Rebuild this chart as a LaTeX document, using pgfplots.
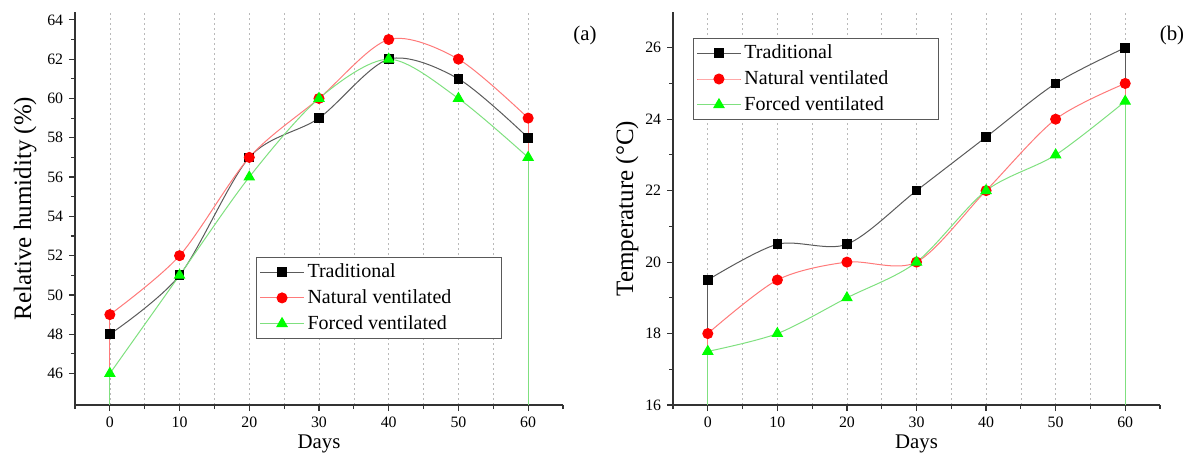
\documentclass[border=0pt]{standalone}
\usepackage{fontspec}
\setmainfont{Liberation Serif}
\usepackage{pgfplots}
\pgfplotsset{compat=1.18}

\definecolor{tradline}{HTML}{5A5A5A}
\definecolor{natline}{HTML}{FF7A7A}
\definecolor{forline}{HTML}{7FE07F}
\definecolor{natmark}{HTML}{FF0000}
\definecolor{formark}{HTML}{00FF00}

\pgfplotsset{
  panel/.style={
    scale only axis, anchor=south west,
    width=292.8pt, height=235.8pt,
    axis x line*=bottom, axis y line*=left,
    axis line style={line width=0.8pt, black!80, -},
    xmin=-5, xmax=65,
    xtick={0,10,...,60}, minor xtick={5,15,...,55},
    extra x ticks={-5,65}, extra x tick labels={,},
    extra x tick style={grid=none, major tick length=2.4pt},
    minor y tick num=1,
    tick align=outside, major tick length=3.6pt, minor tick length=2.4pt,
    tick style={line width=0.7pt, black!80},
    xmajorgrids, xminorgrids,
    grid style={gray!55, line width=0.4pt, dash pattern=on 1.5pt off 1.5pt},
    ticklabel style={font=\fontsize{9.5}{11}\selectfont},
    /pgf/number format/assume math mode=true,
    xlabel={Days},
    xlabel style={font=\fontsize{12.5}{14}\selectfont, at={(axis description cs:0.5,-0.1)}, anchor=center},
    ylabel style={font=\fontsize{15}{17}\selectfont, anchor=center},
    legend cell align=left,
    legend style={draw=gray!70!black, line width=0.6pt, font=\fontsize{12}{14}\selectfont,
      inner sep=2pt, row sep=1.6pt},
    legend image code/.code={\draw[mark repeat=2,mark phase=2] plot coordinates {(0pt,0pt) (13pt,0pt) (26pt,0pt)};},
  },
  trad/.style={tradline, line width=0.6pt, smooth, mark=square*, mark size=2.6pt, mark options={black, fill=black, solid}},
  nat/.style={natline, line width=0.6pt, smooth, mark=*, mark size=3pt, mark options={natmark, fill=natmark, solid}},
  forc/.style={forline, line width=0.6pt, smooth, mark=triangle*, mark size=3.5pt, mark options={formark, fill=formark, solid}},
}

\begin{document}
\begin{tikzpicture}
\path[use as bounding box] (0,0) rectangle (712.2pt,274.2pt);

\begin{axis}[panel, at={(45pt,31.2pt)},
  ymin=44.4, ymax=64.4, ytick={46,48,...,64},
  ylabel={Relative humidity (\%)},
  ylabel style={at={(axis description cs:-0.102,0.5)}},
  legend style={at={(0.371,0.377)}, anchor=north west}]
\addplot[natline, line width=0.6pt, forget plot] coordinates {(0,49) (0,46)};
\addplot[forline, line width=0.6pt, forget plot] coordinates {(0,46) (0,44.4)};
\addplot[natline, line width=0.6pt, forget plot] coordinates {(60,59) (60,57)};
\addplot[forline, line width=0.6pt, forget plot] coordinates {(60,57) (60,44.4)};
\addplot[trad] coordinates {(0,48) (10,51) (20,57) (30,59) (40,62) (50,61) (60,58)};
\addplot[nat] coordinates {(0,49) (10,52) (20,57) (30,60) (40,63) (50,62) (60,59)};
\addplot[forc] coordinates {(0,46) (10,51) (20,56) (30,60) (40,62) (50,60) (60,57)};
\legend{Traditional,Natural ventilated\hspace*{26pt},Forced ventilated}
\end{axis}

\begin{axis}[panel, at={(403.8pt,31.2pt)}, width=292.2pt,
  ymin=16, ymax=27, ytick={16,18,...,26},
  ylabel={Temperature (°C)},
  ylabel style={at={(axis description cs:-0.094,0.5)}},
  legend style={at={(0.041,0.934)}, anchor=north west}]
\addplot[tradline, line width=0.6pt, forget plot] coordinates {(0,19.5) (0,18)};
\addplot[natline, line width=0.6pt, forget plot] coordinates {(0,18) (0,17.5)};
\addplot[forline, line width=0.6pt, forget plot] coordinates {(0,17.5) (0,16)};
\addplot[tradline, line width=0.6pt, forget plot] coordinates {(60,26) (60,25)};
\addplot[natline, line width=0.6pt, forget plot] coordinates {(60,25) (60,24.5)};
\addplot[forline, line width=0.6pt, forget plot] coordinates {(60,24.5) (60,16)};
\addplot[trad] coordinates {(0,19.5) (10,20.5) (20,20.5) (30,22) (40,23.5) (50,25) (60,26)};
\addplot[nat] coordinates {(0,18) (10,19.5) (20,20) (30,20) (40,22) (50,24) (60,25)};
\addplot[forc] coordinates {(0,17.5) (10,18) (20,19) (30,20) (40,22) (50,23) (60,24.5)};
\legend{Traditional,Natural ventilated\hspace*{26pt},Forced ventilated}
\end{axis}

\node[font=\fontsize{12.5}{14}\selectfont] at (351pt,253.2pt) {(a)};
\node[font=\fontsize{12.5}{14}\selectfont] at (703.2pt,253.2pt) {(b)};
\end{tikzpicture}
\end{document}
